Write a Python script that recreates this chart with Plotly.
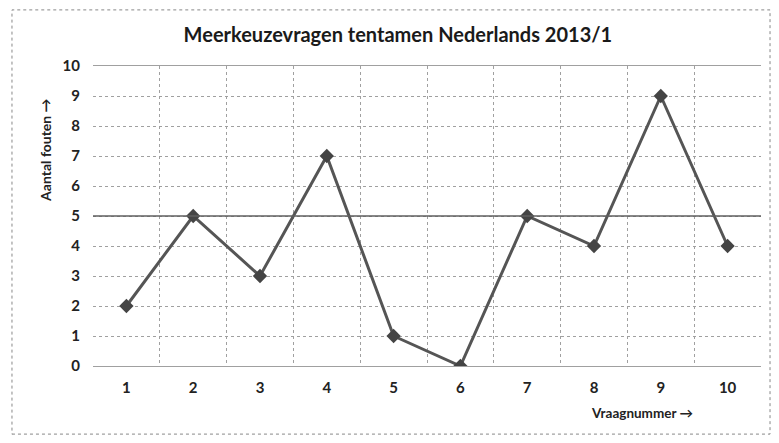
import plotly.graph_objects as go

questions = ["1", "2", "3", "4", "5", "6", "7", "8", "9", "10"]
errors = [2, 5, 3, 7, 1, 0, 5, 4, 9, 4]
y_ticks = [0, 1, 2, 3, 4, 5, 6, 7, 8, 9, 10]
threshold = 5

title_text = "Meerkeuzevragen tentamen Nederlands 2013/1"
y_title = "Aantal fouten \u2192"
x_title = "Vraagnummer \u2192"

font_fam = "Lato, Open Sans, sans-serif"

fig = go.Figure()
fig.add_trace(go.Scatter(
    x=questions, y=errors, mode="lines+markers",
    line=dict(color="#555555", width=3),
    marker=dict(symbol="diamond", size=11, color="#444444"),
    showlegend=False,
))

fig.update_layout(
    width=763, height=427,
    margin=dict(l=85, r=10, t=58, b=69),
    paper_bgcolor="white", plot_bgcolor="white",
    title=dict(text="<b>" + title_text + "</b>", x=0.511, xanchor="center",
               y=0.937, yanchor="middle",
               font=dict(family=font_fam, size=20, color="#1a1a1a")),
    xaxis=dict(type="category", tickson="boundaries", showgrid=True,
               range=[-0.5, len(questions) - 0.5],
               gridcolor="#a0a0a0", griddash="dot", gridwidth=1,
               showline=True, linecolor="#a0a0a0", mirror=True,
               ticks="", automargin=False,
               tickvals=questions, ticktext=["<b>" + q + "</b>" for q in questions],
               tickfont=dict(family=font_fam, size=15, color="#222"),
               zeroline=False),
    yaxis=dict(range=[0, 10], tickvals=y_ticks,
               ticktext=["<b>" + str(v) + "</b>" for v in y_ticks],
               showgrid=True, automargin=False,
               gridcolor="#a0a0a0", griddash="dot", gridwidth=1,
               showline=False, zeroline=False, ticks="", ticklen=0,
               tickfont=dict(family=font_fam, size=15, color="#222")),
    annotations=[
        dict(text="<b>" + y_title + "</b>", textangle=-90, xref="paper", yref="paper",
             x=-0.072, y=0.72, xanchor="center", yanchor="middle", showarrow=False,
             font=dict(family=font_fam, size=14, color="#222")),
        dict(text="<b>" + x_title + "</b>", xref="paper", yref="paper",
             x=0.901, y=-0.157, xanchor="right", yanchor="middle", showarrow=False,
             font=dict(family=font_fam, size=13.5, color="#222")),
    ],
    shapes=[dict(type="rect", xref="paper", yref="paper",
                 x0=-0.1213, x1=1.0135, y0=-0.227, y1=1.187,
                 line=dict(color="#888888", width=1, dash="dot"))],
)
fig.add_hline(y=threshold, line=dict(color="#5f5f5f", width=1.5))
fig.update_xaxes(ticklabelstandoff=8)
fig.update_yaxes(ticklabelstandoff=12)

fig.write_html("out.html")
